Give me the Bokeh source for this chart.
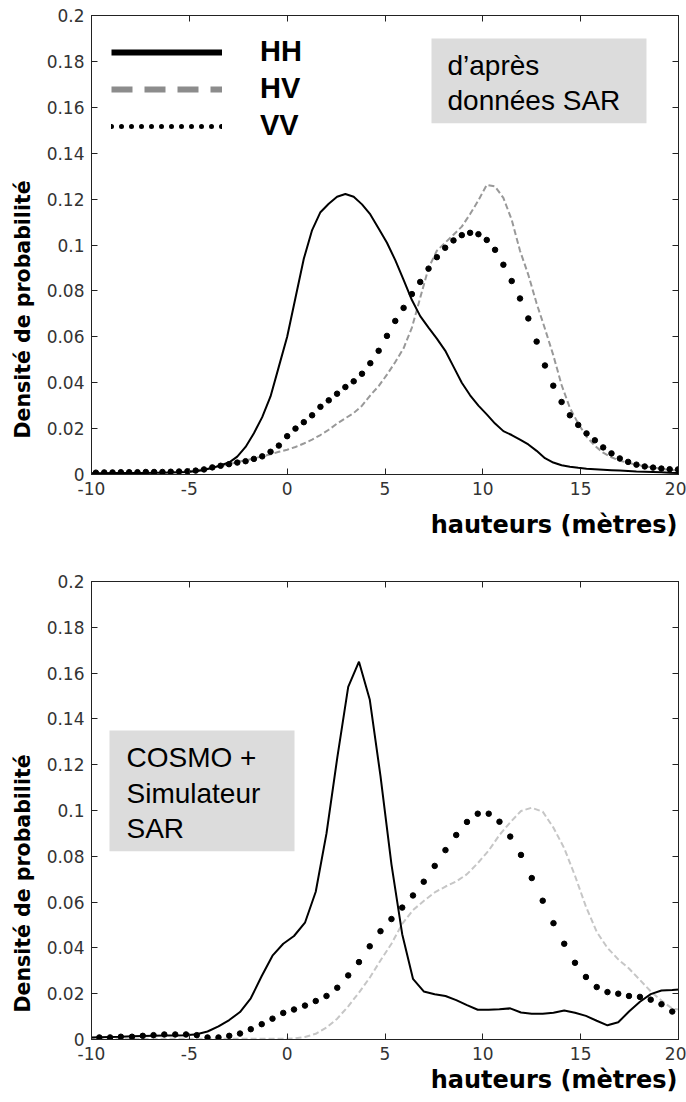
from bokeh.plotting import figure
from bokeh.models import (Range1d, LinearAxis, FixedTicker, CustomJSTickFormatter,
                          Label, BoxAnnotation, Legend, LegendItem, Title)
from bokeh.layouts import column
from bokeh.embed import file_html
from bokeh.resources import INLINE

# ---------------- data ----------------
X_TICKS = [-10, -5, 0, 5, 10, 15, 20]
Y_TICKS = [0, 0.02, 0.04, 0.06, 0.08, 0.1, 0.12, 0.14, 0.16, 0.18, 0.2]
X_LABEL = "hauteurs (mètres)"
Y_LABEL = "Densité de probabilité"
SERIES = ["HH", "HV", "VV"]
TOP_NOTE = ["d’après", "données SAR"]
BOT_NOTE = ["COSMO +", "Simulateur", "SAR"]

# top panel: "d'après données SAR"
x_top = [-10.2, -9.775, -9.35, -8.925, -8.5, -8.075, -7.65, -7.225, -6.8, -6.375,
         -5.95, -5.525, -5.1, -4.675, -4.25, -3.825, -3.4, -2.975, -2.55, -2.125,
         -1.7, -1.275, -0.85, -0.425, 0.0, 0.425, 0.85, 1.275, 1.7, 2.125,
         2.55, 2.975, 3.4, 3.825, 4.25, 4.675, 5.1, 5.525, 5.95, 6.375,
         6.8, 7.225, 7.65, 8.075, 8.5, 8.925, 9.35, 9.775, 10.2, 10.625,
         11.05, 11.475, 11.9, 12.325, 12.75, 13.175, 13.6, 14.025, 14.45, 14.875,
         15.3, 15.725, 16.15, 16.575, 17.0, 17.425, 17.85, 18.275, 18.7, 19.125,
         19.55, 19.975]
hh_top = [0.0005, 0.0005, 0.0005, 0.0006, 0.0006, 0.0006, 0.0007, 0.0007, 0.0008, 0.0008,
          0.0009, 0.0010, 0.0011, 0.0014, 0.0020, 0.0029, 0.0040, 0.0052, 0.0078, 0.0120,
          0.0180, 0.0250, 0.0340, 0.0470, 0.0600, 0.0770, 0.0940, 0.1065, 0.1143, 0.1180,
          0.1210, 0.1222, 0.1210, 0.1177, 0.1133, 0.1072, 0.1010, 0.0934, 0.0848, 0.0760,
          0.0690, 0.0640, 0.0592, 0.0540, 0.0470, 0.0400, 0.0345, 0.0300, 0.0262, 0.0222,
          0.0189, 0.0172, 0.0152, 0.0131, 0.0103, 0.0071, 0.0052, 0.0040, 0.0034, 0.0029,
          0.0025, 0.0023, 0.0021, 0.0019, 0.0017, 0.0015, 0.0013, 0.0012, 0.0011, 0.0010,
          0.0008, 0.0007]
hv_top = [0.0004, 0.0004, 0.0005, 0.0005, 0.0006, 0.0006, 0.0007, 0.0007, 0.0008, 0.0009,
          0.0010, 0.0011, 0.0013, 0.0018, 0.0023, 0.0029, 0.0036, 0.0045, 0.0054, 0.0062,
          0.0070, 0.0079, 0.0088, 0.0099, 0.0108, 0.0120, 0.0135, 0.0152, 0.0172, 0.0195,
          0.0222, 0.0245, 0.0268, 0.0300, 0.0345, 0.0385, 0.0435, 0.0490, 0.0550, 0.0640,
          0.0770, 0.0900, 0.0975, 0.1010, 0.1045, 0.1080, 0.1135, 0.1195, 0.1262, 0.1255,
          0.1205, 0.1110, 0.0975, 0.0870, 0.0745, 0.0635, 0.0520, 0.0390, 0.0290, 0.0222,
          0.0165, 0.0125, 0.0095, 0.0075, 0.0060, 0.0051, 0.0043, 0.0036, 0.0030, 0.0025,
          0.0020, 0.0017]
vv_top = [0.0008, 0.0008, 0.0009, 0.0009, 0.0010, 0.0010, 0.0010, 0.0011, 0.0011, 0.0011,
          0.0012, 0.0013, 0.0014, 0.0017, 0.0022, 0.0031, 0.0038, 0.0045, 0.0052, 0.0058,
          0.0068, 0.0079, 0.0099, 0.0126, 0.0167, 0.0200, 0.0228, 0.0258, 0.0295, 0.0323,
          0.0352, 0.0381, 0.0406, 0.0439, 0.0485, 0.0539, 0.0604, 0.0669, 0.0726, 0.0786,
          0.0839, 0.0897, 0.0947, 0.0988, 0.1020, 0.1043, 0.1053, 0.1047, 0.1022, 0.0979,
          0.0914, 0.0843, 0.0767, 0.0680, 0.0579, 0.0475, 0.0387, 0.0316, 0.0258, 0.0216,
          0.0179, 0.0149, 0.0118, 0.0092, 0.0070, 0.0055, 0.0043, 0.0035, 0.0030, 0.0026,
          0.0023, 0.0022]

# bottom panel: "COSMO + Simulateur SAR"
x_bot = [-10.15, -9.6, -9.05, -8.5, -7.93, -7.38, -6.83, -6.28, -5.72, -5.17,
         -4.62, -4.07, -3.51, -2.96, -2.41, -1.86, -1.3, -0.75, -0.2, 0.35,
         0.91, 1.46, 2.01, 2.56, 3.12, 3.67, 4.22, 4.77, 5.33, 5.88,
         6.43, 6.98, 7.54, 8.09, 8.64, 9.19, 9.74, 10.3, 10.85, 11.4,
         11.95, 12.5, 13.06, 13.61, 14.16, 14.71, 15.27, 15.82, 16.37, 16.92,
         17.47, 18.03, 18.58, 19.13, 19.68, 20.23]
hh_bot = [0.0009, 0.0010, 0.0011, 0.0012, 0.0014, 0.0015, 0.0016, 0.0017, 0.0018, 0.0019,
          0.0023, 0.0035, 0.0057, 0.0085, 0.0120, 0.0180, 0.0277, 0.0366, 0.0418, 0.0452,
          0.0510, 0.0645, 0.0900, 0.1230, 0.1540, 0.1650, 0.1485, 0.1150, 0.0765, 0.0460,
          0.0265, 0.0210, 0.0198, 0.0190, 0.0172, 0.0150, 0.0130, 0.0130, 0.0132, 0.0136,
          0.0118, 0.0112, 0.0112, 0.0117, 0.0127, 0.0117, 0.0103, 0.0082, 0.0062, 0.0075,
          0.0122, 0.0165, 0.0198, 0.0214, 0.0216, 0.0219]
hv_bot = [0.0003, 0.0003, 0.0003, 0.0003, 0.0003, 0.0003, 0.0003, 0.0003, 0.0003, 0.0003,
          0.0003, 0.0003, 0.0003, 0.0003, 0.0003, 0.0003, 0.0003, 0.0003, 0.0003, 0.0004,
          0.0011, 0.0025, 0.0052, 0.0091, 0.0145, 0.0205, 0.0270, 0.0345, 0.0418, 0.0505,
          0.0565, 0.0605, 0.0642, 0.0668, 0.0690, 0.0722, 0.0770, 0.0825, 0.0893, 0.0948,
          0.0998, 0.1012, 0.0995, 0.0925, 0.0835, 0.0715, 0.0580, 0.0470, 0.0400, 0.0350,
          0.0310, 0.0260, 0.0210, 0.0170, 0.0135, 0.0128]
vv_bot = [0.0009, 0.0009, 0.0009, 0.0012, 0.0012, 0.0016, 0.0019, 0.0022, 0.0022, 0.0022,
          0.0019, 0.0009, 0.0009, 0.0016, 0.0026, 0.0045, 0.0067, 0.0091, 0.0116, 0.0131,
          0.0148, 0.0168, 0.0190, 0.0226, 0.0280, 0.0338, 0.0407, 0.0473, 0.0526, 0.0576,
          0.0629, 0.0689, 0.0758, 0.0827, 0.0893, 0.0950, 0.0986, 0.0986, 0.0951, 0.0886,
          0.0806, 0.0705, 0.0606, 0.0508, 0.0418, 0.0335, 0.0273, 0.0229, 0.0207, 0.0200,
          0.0190, 0.0186, 0.0174, 0.0154, 0.0122, 0.0095]

# ---------------- style ----------------
FONT = "Liberation Sans"
WIDE_FONT = "DejaVu Sans"
AX_COLOR = "#222222"
TICK_COLOR = "#333333"


def base_figure(height, border_top, border_bottom):
    p = figure(width=686, height=height, x_range=Range1d(-10, 20), y_range=Range1d(0, 0.2),
               output_backend="svg", toolbar_location=None,
               min_border_left=91, min_border_right=8,
               min_border_top=border_top, min_border_bottom=border_bottom)
    p.grid.visible = False
    p.outline_line_color = AX_COLOR
    p.outline_line_width = 1
    p.background_fill_color = "white"
    p.border_fill_color = "white"

    for ax in (p.xaxis[0], p.yaxis[0]):
        ax.major_tick_in = 6
        ax.major_tick_out = 0
        ax.minor_tick_line_color = None
        ax.axis_line_color = AX_COLOR
        ax.major_tick_line_color = AX_COLOR
        ax.major_label_text_font = WIDE_FONT
        ax.major_label_text_font_size = "17px"
        ax.major_label_text_color = TICK_COLOR
        ax.major_label_standoff = 7
    p.xaxis[0].ticker = FixedTicker(ticks=X_TICKS)
    p.xaxis[0].formatter = CustomJSTickFormatter(code="return String(tick);")
    p.yaxis[0].ticker = FixedTicker(ticks=Y_TICKS)
    p.yaxis[0].formatter = CustomJSTickFormatter(
        code="return String(Math.round(tick * 100) / 100);")

    top_ax = LinearAxis(ticker=FixedTicker(ticks=X_TICKS), major_tick_in=6, major_tick_out=0,
                        minor_tick_line_color=None, axis_line_color=AX_COLOR,
                        major_tick_line_color=AX_COLOR, major_label_text_font_size="1px",
                        major_label_text_color=None, major_label_standoff=0)
    right_ax = LinearAxis(ticker=FixedTicker(ticks=Y_TICKS), major_tick_in=6, major_tick_out=0,
                          minor_tick_line_color=None, axis_line_color=AX_COLOR,
                          major_tick_line_color=AX_COLOR, major_label_text_font_size="1px",
                          major_label_text_color=None, major_label_standoff=0)
    p.add_layout(top_ax, "above")
    p.add_layout(right_ax, "right")
    return p


def add_axis_titles(p, ylab_offset, xlab_standoff):
    p.add_layout(Title(text=X_LABEL, align="right", offset=1, standoff=xlab_standoff,
                       vertical_align="middle", text_font=WIDE_FONT, text_font_size="24px",
                       text_font_style="bold", text_color="black"), "below")
    p.add_layout(Title(text=Y_LABEL, align="left", offset=ylab_offset, standoff=15,
                       vertical_align="middle", text_font=WIDE_FONT, text_font_size="20.5px",
                       text_font_style="bold", text_color="black"), "left")


def add_note(p, left, right, bottom, top, text_x, lines_y, lines):
    p.add_layout(BoxAnnotation(left=left, right=right, bottom=bottom, top=top,
                               fill_color="#dcdcdc", fill_alpha=1.0, line_alpha=0,
                               level="underlay"))
    for txt, yy in zip(lines, lines_y):
        p.add_layout(Label(x=text_x, y=yy, text=txt, text_font=FONT, text_font_size="28px",
                           text_align="left", text_baseline="middle", text_color="black"))


# ---------------- top figure ----------------
p1 = base_figure(556, 15, 82)
p1.line(x_top, hv_top, line_color="#999999", line_width=2, line_dash="6 3")
p1.line(x_top, hh_top, line_color="black", line_width=2)
p1.scatter(x_top, vv_top, size=5.5, color="black", marker="circle")

# legend samples (thicker than the curves, as in the original)
leg_hh = p1.line(x_top, hh_top, line_color="black", line_width=6, visible=False)
leg_hv = p1.line(x_top, hv_top, line_color="#8c8c8c", line_width=6, line_dash="21 12",
                 visible=False)
leg_vv = p1.line(x_top, vv_top, line_color="black", line_width=5, line_dash="0 10",
                 line_cap="round", visible=False)
legend = Legend(items=[LegendItem(label=SERIES[0], renderers=[leg_hh]),
                       LegendItem(label=SERIES[1], renderers=[leg_hv]),
                       LegendItem(label=SERIES[2], renderers=[leg_vv])],
                location="top_left", margin=0, padding=20, glyph_width=111,
                glyph_height=32, label_height=32, label_standoff=38, spacing=4,
                label_text_font=FONT, label_text_font_size="29px",
                label_text_font_style="bold", label_text_color="black",
                background_fill_alpha=0, border_line_alpha=0,
                inactive_fill_alpha=0, click_policy="none")
p1.add_layout(legend)

add_note(p1, 7.376, 18.364, 0.153, 0.19, 8.194, [0.1782, 0.163], TOP_NOTE)
add_axis_titles(p1, 36, 24)

# ---------------- bottom figure ----------------
p2 = base_figure(546, 25, 63)
p2.line(x_bot, hv_bot, line_color="#c6c6c6", line_width=2, line_dash="6 3")
p2.line(x_bot, hh_bot, line_color="black", line_width=2)
p2.scatter(x_bot, vv_bot, size=5.5, color="black", marker="circle")

add_note(p2, -9.08, 0.375, 0.0822, 0.1349, -8.211, [0.1233, 0.1074, 0.0921], BOT_NOTE)
add_axis_titles(p2, 27, 4)

layout = column(p1, p2, spacing=0)
open("out.html", "w").write(file_html(layout, INLINE))
